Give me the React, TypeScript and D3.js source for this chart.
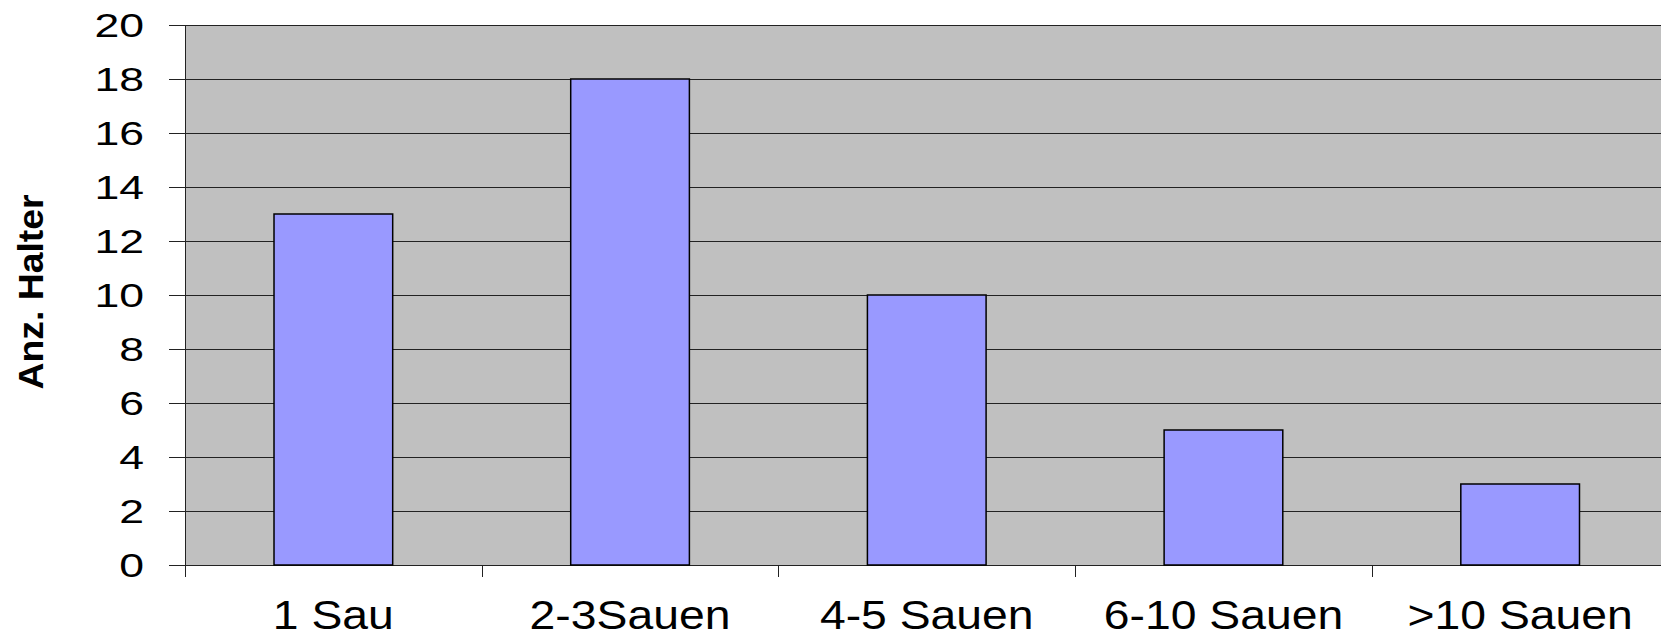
import { useEffect, useRef } from 'react'
import * as d3 from 'd3'

const categories = ['1 Sau', '2-3Sauen', '4-5 Sauen', '6-10 Sauen', '>10 Sauen']
const halter = [13, 18, 10, 5, 3]
const yTicks = [0, 2, 4, 6, 8, 10, 12, 14, 16, 18, 20]

const width = 1661
const height = 637

export default function App() {
  const svgRef = useRef<SVGSVGElement>(null)

  useEffect(() => {
    if (!svgRef.current) return
    const svg = d3.select(svgRef.current)
    svg.selectAll('*').remove()

    const left = 185
    const top = 25
    const bottom = 565
    const right = 185 + 5 * 296.7

    const x = d3.scaleBand<string>().domain(categories).range([left, right]).padding(0)
    const y = d3.scaleLinear().domain([0, 20]).range([bottom, top])

    // plot background
    svg.append('rect')
      .attr('x', left).attr('y', top)
      .attr('width', right - left).attr('height', bottom - top)
      .attr('fill', '#c0c0c0')

    // gridlines
    svg.append('g')
      .selectAll('line')
      .data(yTicks)
      .enter()
      .append('line')
      .attr('x1', left - 16)
      .attr('x2', right)
      .attr('y1', (d) => Math.round(y(d)) + 0.5)
      .attr('y2', (d) => Math.round(y(d)) + 0.5)
      .attr('stroke', '#222')
      .attr('stroke-width', 1)

    // bars
    const bw = x.bandwidth() * 0.4
    svg.append('g')
      .selectAll('rect')
      .data(halter)
      .enter()
      .append('rect')
      .attr('x', (d, i) => x(categories[i])! + (x.bandwidth() - bw) / 2)
      .attr('y', (d) => y(d))
      .attr('width', bw)
      .attr('height', (d) => y(0) - y(d))
      .attr('fill', '#9999ff')
      .attr('stroke', '#000')
      .attr('stroke-width', 1.5)

    // axis line
    svg.append('line')
      .attr('x1', left + 0.5).attr('x2', left + 0.5)
      .attr('y1', top).attr('y2', bottom + 12)
      .attr('stroke', '#222')

    // category ticks
    svg.append('g')
      .selectAll('line')
      .data(categories.slice(1))
      .enter()
      .append('line')
      .attr('x1', (d) => Math.round(x(d)!) + 0.5)
      .attr('x2', (d) => Math.round(x(d)!) + 0.5)
      .attr('y1', bottom)
      .attr('y2', bottom + 12)
      .attr('stroke', '#222')

    // y tick labels
    svg.append('g')
      .selectAll('text')
      .data(yTicks)
      .enter()
      .append('text')
      .attr('transform', (d) => `translate(144,${y(d)}) scale(1.35,1)`)
      .attr('text-anchor', 'end')
      .attr('dy', '0.36em')
      .style('font-family', '"Liberation Sans", Arial, sans-serif')
      .style('font-size', '33px')
      .text((d) => d)

    // x labels
    svg.append('g')
      .selectAll('text')
      .data(categories)
      .enter()
      .append('text')
      .attr('transform', (d) => `translate(${x(d)! + x.bandwidth() / 2},629) scale(1.13,1)`)
      .attr('text-anchor', 'middle')
      .style('font-family', '"Liberation Sans", Arial, sans-serif')
      .style('font-size', '41px')
      .text((d) => d)

    // y axis title
    svg.append('text')
      .attr('transform', 'translate(43,292) rotate(-90)')
      .attr('text-anchor', 'middle')
      .attr('textLength', 195)
      .attr('lengthAdjust', 'spacingAndGlyphs')
      .style('font-family', '"Liberation Sans", Arial, sans-serif')
      .style('font-size', '35px')
      .style('font-weight', 'bold')
      .text('Anz. Halter')
  }, [])

  return (
    <svg
      ref={svgRef}
      width={width}
      height={height}
      style={{ position: 'absolute', left: 0, top: 0, background: '#fff' }}
    />
  )
}
